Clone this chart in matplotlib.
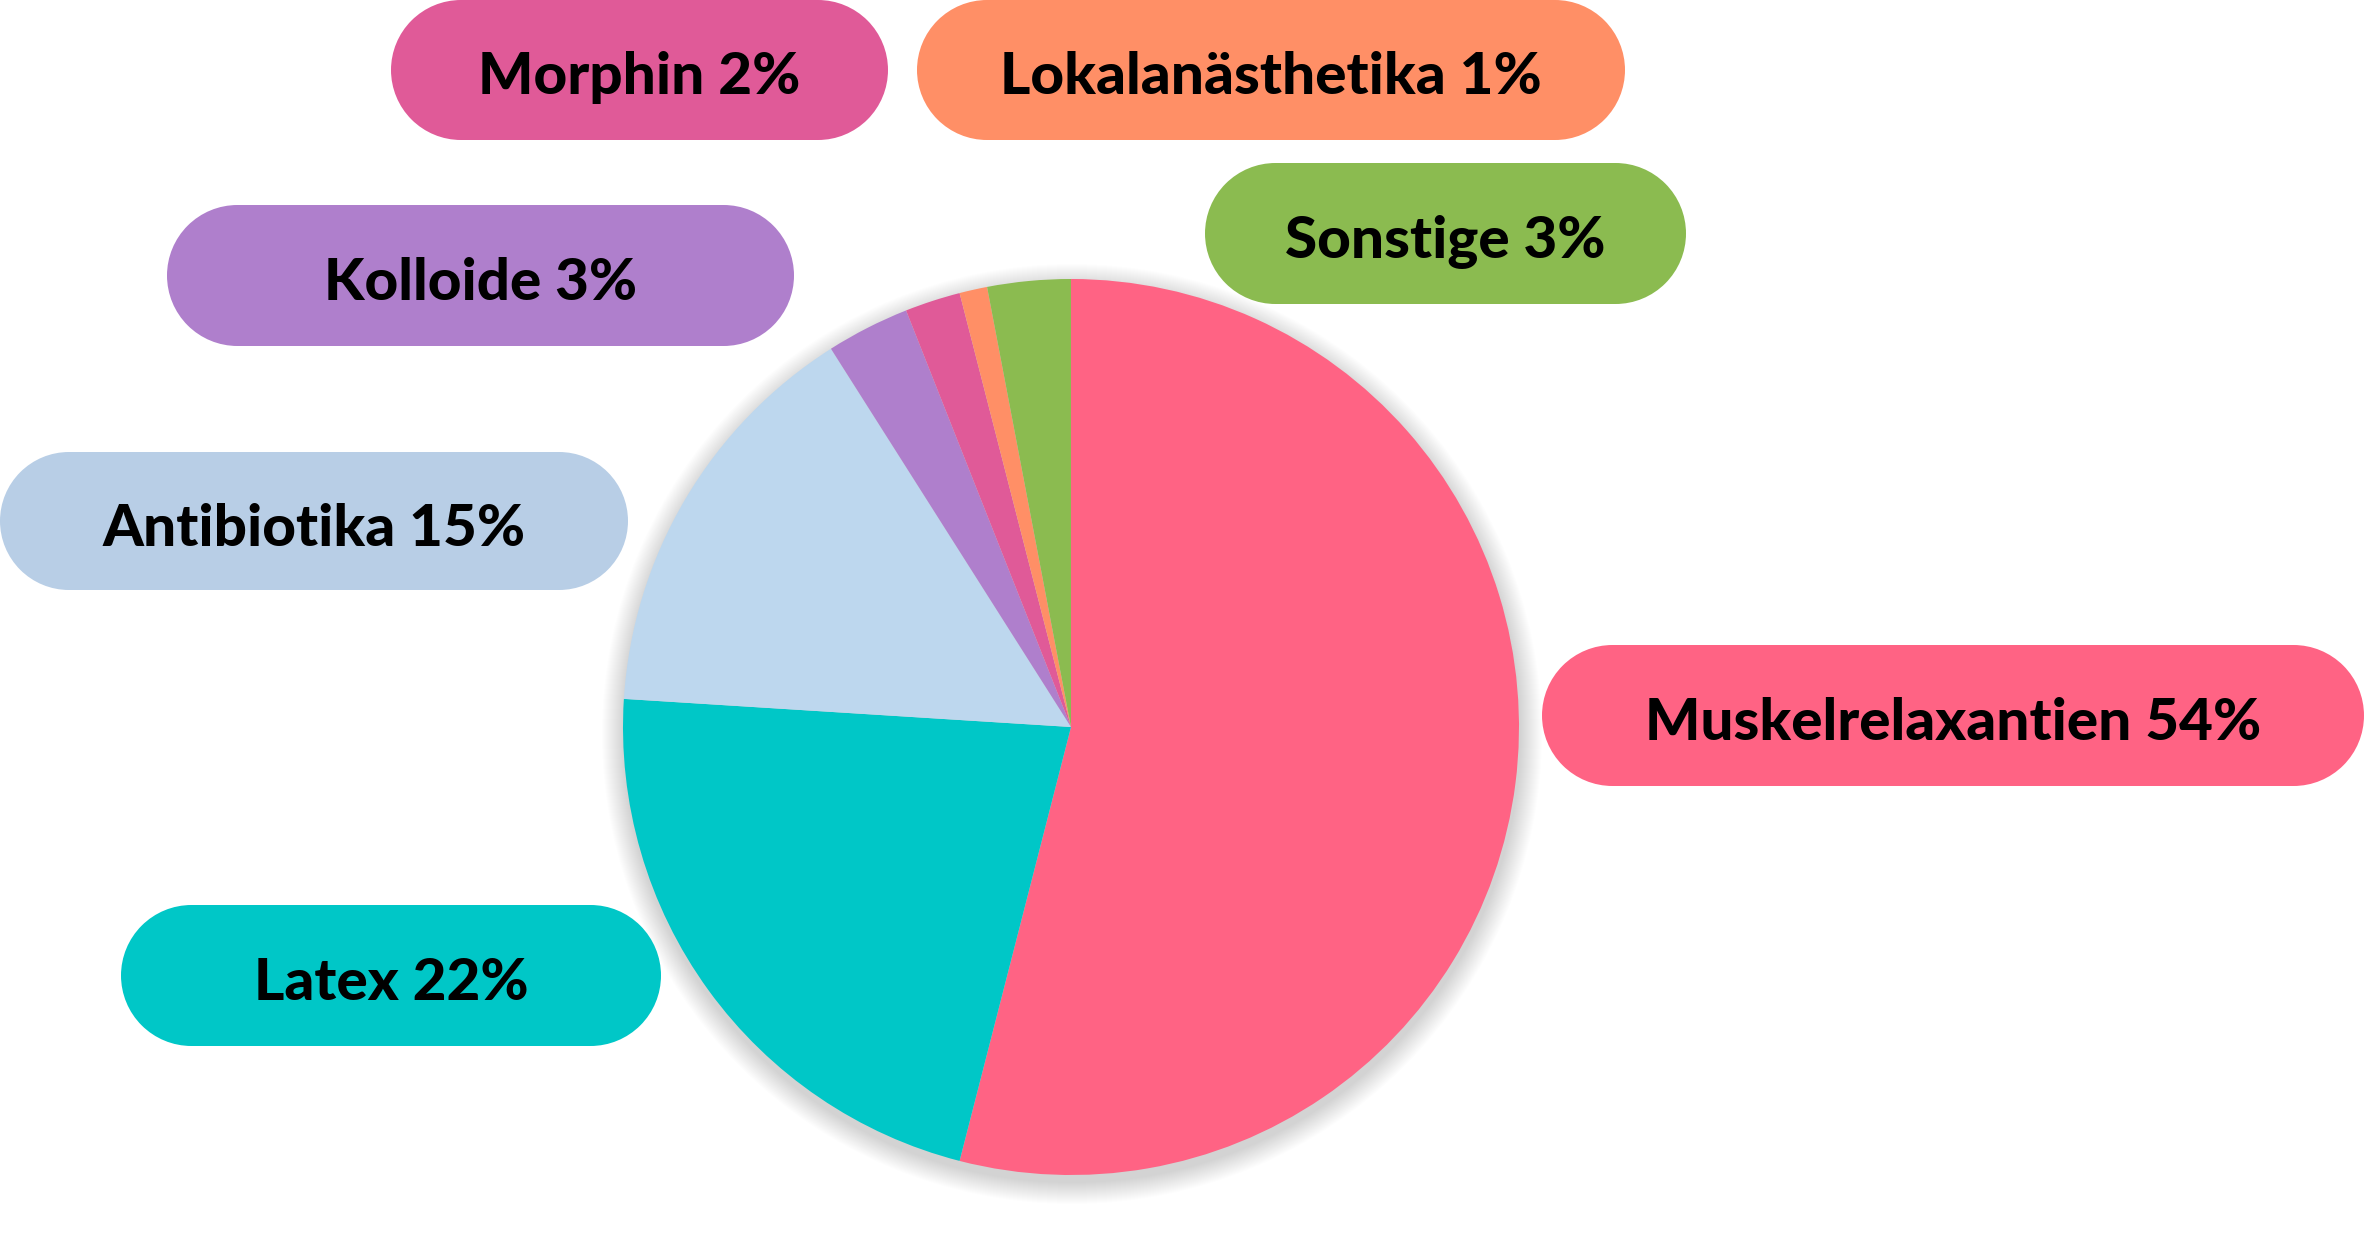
import matplotlib.pyplot as plt
from matplotlib.patches import Rectangle, Circle

W, H = 2366, 1246

names = ["Muskelrelaxantien", "Latex", "Antibiotika", "Kolloide",
         "Morphin", "Lokalanästhetika", "Sonstige"]
values = [54, 22, 15, 3, 2, 1, 3]
pie_colors = ["#FF6384", "#00C7C7", "#BDD7EE", "#AF7FCC",
              "#E05A98", "#FF8F66", "#8BBB50"]
box_colors = ["#FF6384", "#00C7C7", "#B8CEE6", "#AF7FCC",
              "#E05A98", "#FF8F66", "#8BBB50"]

# box layout in pixels: left, top, right, bottom (image coordinates)
boxes = [(1542, 645, 2364, 786),
         (121, 905, 661, 1046),
         (0, 452, 628, 590),
         (167, 205, 794, 346),
         (391, 0, 888, 140),
         (917, 0, 1625, 140),
         (1205, 163, 1686, 304)]

fig = plt.figure(figsize=(W / 100, H / 100), dpi=100)
ax = fig.add_axes([0, 0, 1, 1])

cx, cy, r = 1071, H - 727, 448

# soft shadow
for k in range(22, 0, -1):
    ax.add_patch(Circle((cx + 1, cy - 7), r + k, color="black",
                        alpha=0.007, lw=0, zorder=1))

ax.pie(values, colors=pie_colors, startangle=90, counterclock=False,
       center=(cx, cy), radius=r, wedgeprops=dict(linewidth=0),
       frame=True)
ax.set_xlim(0, W)
ax.set_ylim(0, H)
ax.set_aspect("equal")
ax.axis("off")


def pill(l, t, rr, b, col):
    h = b - t
    rad = h / 2
    y0 = H - b
    ax.add_patch(Rectangle((l + rad, y0), rr - l - h, h, fc=col, ec="none", zorder=3))
    ax.add_patch(Circle((l + rad, y0 + rad), rad, fc=col, ec="none", zorder=3))
    ax.add_patch(Circle((rr - rad, y0 + rad), rad, fc=col, ec="none", zorder=3))


for name, val, col, (l, t, rr, b) in zip(names, values, box_colors, boxes):
    pill(l, t, rr, b, col)
    ax.text((l + rr) / 2, H - (t + b) / 2 - 3, f"{name} {val}%",
            ha="center", va="center_baseline", fontsize=42,
            fontfamily="Lato", fontweight="black", color="black", zorder=4)

fig.savefig("out.png", dpi=100)
